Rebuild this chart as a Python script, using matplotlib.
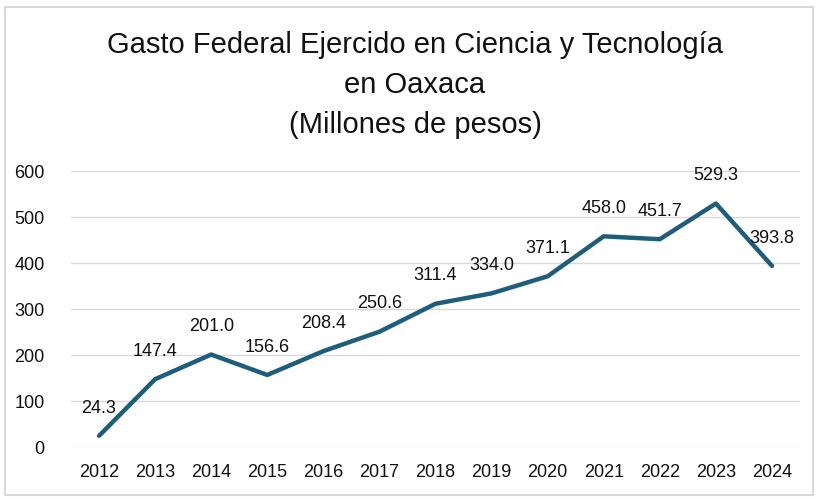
import matplotlib
matplotlib.use("Agg")
import matplotlib.pyplot as plt
from matplotlib.patches import Rectangle

years = ["2012", "2013", "2014", "2015", "2016", "2017", "2018", "2019", "2020", "2021", "2022", "2023", "2024"]
values = [24.3, 147.4, 201.0, 156.6, 208.4, 250.6, 311.4, 334.0, 371.1, 458.0, 451.7, 529.3, 393.8]
title_text = "Gasto Federal Ejercido en Ciencia y Tecnología\nen Oaxaca\n(Millones de pesos)"

plt.rcParams['font.family'] = ['Liberation Sans', 'DejaVu Sans']

fig = plt.figure(figsize=(8.16, 4.97), dpi=100)
ax = fig.add_axes([71/816, 50/497, 729/816, 276/497])

x = list(range(len(years)))
ax.plot(x, values, color='#1f5d7d', linewidth=3.2, solid_capstyle='round', solid_joinstyle='round', zorder=3)
for xi, v in zip(x, values):
    ax.annotate(f"{v:.1f}", (xi, v), xytext=(0, 20), textcoords='offset points',
                ha='center', va='center', fontsize=13, color='#111111')

ax.set_xlim(-0.5, len(years) - 0.5)
ax.set_ylim(0, 600)
ax.set_yticks(range(0, 601, 100))
ax.set_xticks(x)
ax.set_xticklabels(years)
ax.tick_params(axis='both', length=0, labelsize=13, colors='#111111')
ax.tick_params(axis='y', pad=19)
ax.tick_params(axis='x', pad=12)
ax.grid(axis='y', color='#d9d9d9', linewidth=1.0)
ax.set_axisbelow(True)
for s in ax.spines.values():
    s.set_visible(False)

fig.text(415/816, 1 - 85/497, title_text, ha='center', va='center', fontsize=21,
         family=['Liberation Sans Narrow', 'Liberation Sans', 'DejaVu Sans'],
         linespacing=1.55, color='#111111')

fig.patches.append(Rectangle((5/816, 2/497), 808/816, 488/497, transform=fig.transFigure,
                             fill=False, edgecolor='#d9d9d9', linewidth=1.5))

fig.savefig("out.png", dpi=100)
